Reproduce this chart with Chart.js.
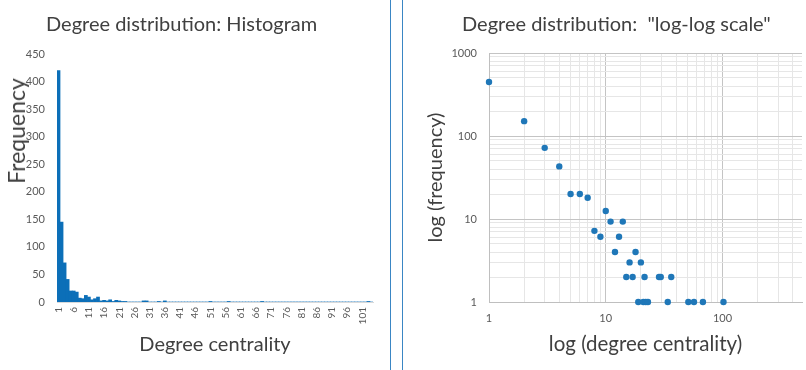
<!DOCTYPE html>
<html>
<head>
<meta charset="utf-8">
<title>Degree distribution</title>
<script src="https://cdn.jsdelivr.net/npm/chart.js@4.4.0/dist/chart.umd.min.js"></script>
<style>
  html, body { margin: 0; padding: 0; background: #fff; overflow: hidden; }
  body { width: 806px; height: 370px; position: relative; font-family: Lato, sans-serif; }
  .panel { position: absolute; top: 0; height: 370px; overflow: hidden; }
  #left-panel  { left: 0; width: 390px; }
  #right-panel { left: 403px; width: 403px; }
  .sep { position: absolute; top: 0; width: 1px; height: 370px; background: #3a86c4; }
  .chart-title { position: absolute; top: 11px; line-height: 24px; font-size: 20px; color: #404040; white-space: pre; }
  .y-title { position: absolute; white-space: pre; color: #404040; line-height: 26px;
             transform: translate(-50%, -50%) rotate(-90deg); }
</style>
</head>
<body>
  <div class="panel" id="left-panel"><canvas id="hist" width="390" height="370"></canvas></div>
  <div class="panel" id="right-panel"><canvas id="loglog" width="403" height="370"></canvas></div>
  <div class="sep" style="left:390px"></div>
  <div class="sep" style="left:402px"></div>
  <div class="chart-title" style="left:46px">Degree distribution: Histogram</div>
  <div class="chart-title" style="left:462px">Degree distribution:  "log-log scale"</div>
  <div class="y-title" style="left:16px; top:131px; font-size:23px">Frequency</div>

<script>
// --- Histogram data (degree centrality bins 1..104) ---
const histBins = Array.from({ length: 104 }, (_, i) => String(i + 1));
const histFreq = [
  420, 145, 71, 41, 20, 20, 18, 7, 6, 12,
  9, 4, 6, 9, 2, 3, 2, 4, 1, 3,
  2, 1, 1, 0, 0, 0, 0, 0, 2, 2,
  0, 0, 0, 1, 0, 2, 0, 0, 0, 0,
  0, 0, 0, 0, 0, 0, 0, 0, 0, 0,
  1, 0, 0, 0, 0, 0, 1, 0, 0, 0,
  0, 0, 0, 0, 0, 0, 0, 1, 0, 0,
  0, 0, 0, 0, 0, 0, 0, 0, 0, 0,
  0, 0, 0, 0, 0, 0, 0, 0, 0, 0,
  0, 0, 0, 0, 0, 0, 0, 0, 0, 0,
  0, 0, 1, 0
];

// --- Log-log scatter data ---
const logDegree = [1, 2, 3, 4, 5, 6, 7, 8, 9, 10, 11, 12, 13, 14, 15, 16, 17, 18, 19, 20,
                   21, 21.5, 22, 23, 28.6, 29.6, 34, 36.4, 51, 57, 68, 102];
const logFreq   = [447, 151, 72, 43, 20, 20, 18, 7.2, 6.1, 12.5, 9.3, 4, 6.1, 9.3, 2, 3, 2, 4, 1, 3,
                   1, 2, 1, 1, 2, 2, 1, 2, 1, 1, 1, 1];

const logTickValues = [1, 2, 3, 4, 5, 6, 7, 8, 9, 10, 20, 30, 40, 50, 60, 70, 80, 90,
                       100, 200, 300, 400, 500, 600, 700, 800, 900, 1000];
const logXMax = 480;   // visible end of the (cropped) x axis

const BLUE      = '#0c6fb8';
const DOT       = '#1f77b8';
const TEXT      = '#404040';
const TICK_TEXT = '#595959';

const isPow10 = v => Math.abs(Math.log10(v) - Math.round(Math.log10(v))) < 1e-9;

function draw() {
  // --- Histogram (bar) ---
  new Chart(document.getElementById('hist'), {
    type: 'bar',
    data: {
      labels: histBins,
      datasets: [{
        data: histFreq,
        backgroundColor: BLUE,
        borderWidth: 0,
        barPercentage: 1,
        categoryPercentage: 1,
      }]
    },
    options: {
      responsive: false,
      animation: false,
      layout: { padding: { top: 54, right: 17, bottom: 0, left: 0 } },
      plugins: { legend: { display: false }, tooltip: { enabled: false } },
      scales: {
        x: {
          afterFit: s => { s.height = 68; },
          grid: { display: false, drawTicks: false },
          border: { display: true, color: '#d9d9d9' },
          ticks: {
            autoSkip: false, minRotation: 90, maxRotation: 90, padding: 5,
            color: TICK_TEXT, font: { family: 'Lato', size: 10 },
            callback: (v, i) => (i % 5 === 0 ? histBins[i] : '')
          },
          title: {
            display: true, text: 'Degree centrality', color: TEXT,
            font: { family: 'Lato', size: 20 }, padding: { top: 0, bottom: 13 }
          }
        },
        y: {
          min: 0, max: 450,
          afterFit: s => { s.width = 57; },
          grid: { display: false, drawTicks: false },
          border: { display: false },
          ticks: { stepSize: 50, padding: 12, color: TICK_TEXT, font: { family: 'Lato', size: 11 } }
        }
      }
    }
  });

  // --- Log-log scatter ---
  const gridColor = ctx => (ctx.tick && isPow10(ctx.tick.value) ? '#c4c4c4' : '#e6e6e6');
  const powLabel  = v => (isPow10(v) ? String(Math.round(v)) : '');
  const setLogTicks = s => {
    s.ticks = logTickValues.filter(v => v <= s.max + 1e-6).map(v => ({ value: v }));
  };

  new Chart(document.getElementById('loglog'), {
    type: 'scatter',
    data: {
      datasets: [{
        data: logDegree.map((x, i) => ({ x, y: logFreq[i] })),
        backgroundColor: DOT,
        borderColor: DOT,
        borderWidth: 0,
        pointRadius: 3.2,
        clip: false,
      }]
    },
    options: {
      responsive: false,
      animation: false,
      layout: { padding: { top: 53, right: 0, bottom: 0, left: 0 } },
      plugins: { legend: { display: false }, tooltip: { enabled: false } },
      scales: {
        x: {
          type: 'logarithmic', min: 1, max: logXMax,
          afterBuildTicks: setLogTicks,
          afterFit: s => { s.height = 68; },
          grid: { color: gridColor, drawTicks: false },
          border: { color: '#bfbfbf' },
          ticks: {
            autoSkip: false, maxRotation: 0, padding: 10,
            color: TICK_TEXT, font: { family: 'Lato', size: 11 }, callback: powLabel
          },
          title: {
            display: true, text: 'log (degree centrality)', color: TEXT,
            font: { family: 'Lato', size: 20.5 }, padding: { top: 0, bottom: 13 }
          }
        },
        y: {
          type: 'logarithmic', min: 1, max: 1000,
          afterBuildTicks: setLogTicks,
          afterFit: s => { s.width = 86; },
          grid: { color: gridColor, drawTicks: false },
          border: { color: '#bfbfbf' },
          ticks: {
            autoSkip: false, padding: 12,
            color: TICK_TEXT, font: { family: 'Lato', size: 11 }, callback: powLabel
          },
          title: {
            display: true, text: 'log (frequency)', color: TEXT,
            font: { family: 'Lato', size: 20 }, padding: { top: 21, bottom: 0 }
          }
        }
      }
    }
  });
}

document.fonts.load('20px Lato').then(draw, draw);
</script>
</body>
</html>
